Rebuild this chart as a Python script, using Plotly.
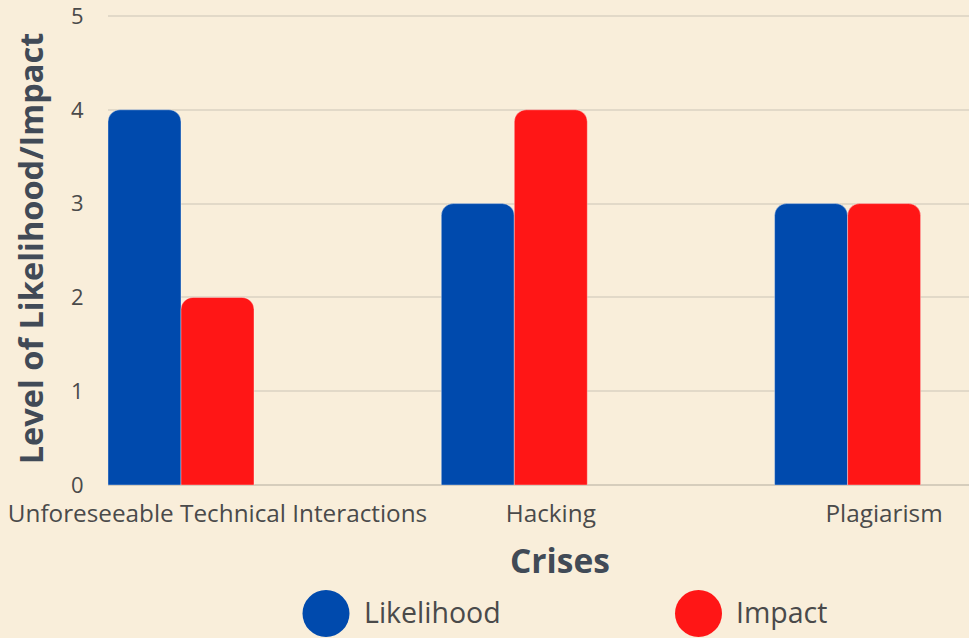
import plotly.graph_objects as go

categories = ["Unforeseeable Technical Interactions", "Hacking", "Plagiarism"]
likelihood = [4, 3, 3]
impact = [2, 4, 3]
series_names = ["Likelihood", "Impact"]
y_ticks = [0, 1, 2, 3, 4, 5]

BG = "#F9EEDA"
BLUE = "#004AAD"
RED = "#FF1616"
TITLE_C = "#414A56"
TICK_C = "#4A4A4A"
FONT = "Open Sans"

W, H = 969, 638
ML, MR, MT, MB = 108, 0, 12, 153
PW, PH = W - ML - MR, H - MT - MB
ZERO_PX = H - MB          # pixel row of y=0
TOP_PX = 16               # pixel row of y=5
y_max = 5 * PH / (ZERO_PX - TOP_PX)

def px_x(px):
    return (px - ML) / PW

def px_y(py):
    return (H - MB - py) / PH

bw = 0.219
fig = go.Figure()
fig.add_trace(go.Bar(x=categories, y=likelihood, name=series_names[0],
                     marker=dict(color=BLUE, line=dict(width=0.6, color="rgba(255,255,255,0.6)")),
                     width=bw, offset=-1.5 * bw, showlegend=False))
fig.add_trace(go.Bar(x=categories, y=impact, name=series_names[1],
                     marker=dict(color=RED, line=dict(width=0.6, color="rgba(255,255,255,0.6)")),
                     width=bw, offset=-0.5 * bw, showlegend=False))

fig.update_layout(
    width=W, height=H,
    margin=dict(l=ML, r=MR, t=MT, b=MB, autoexpand=False),
    paper_bgcolor=BG, plot_bgcolor=BG,
    barmode="overlay",
    barcornerradius=12,
    font=dict(family=FONT, color=TICK_C),
    showlegend=False,
)
fig.update_xaxes(
    type="category",
    range=[-1.5 * bw, (W - ML) / 333.3 - 1.5 * bw],
    showgrid=False, zeroline=False, showline=False,
    ticks="outside", ticklen=7, tickcolor="rgba(0,0,0,0)",
    tickfont=dict(size=24.3, color=TICK_C, family=FONT),
    automargin=False,
)
fig.update_yaxes(
    range=[0, y_max], tickvals=y_ticks,
    showgrid=True, gridcolor="#E2D9C8", gridwidth=1.5,
    zeroline=True, zerolinecolor="#D6CDBC", zerolinewidth=1.5,
    showline=False,
    ticks="outside", ticklen=19, tickcolor="rgba(0,0,0,0)",
    ticklabeloverflow="allow",
    tickfont=dict(size=22, color=TICK_C, family=FONT),
    title=dict(text="<b>Level of Likelihood/Impact</b>", standoff=17,
               font=dict(size=32.5, color=TITLE_C, family=FONT)),
    automargin=False,
)

# x-axis title
fig.add_annotation(text="<b>Crises</b>", x=px_x(560), y=px_y(560), xref="paper", yref="paper",
                   xanchor="center", yanchor="middle", showarrow=False,
                   font=dict(size=33.5, color=TITLE_C, family=FONT))

# custom legend with large circles
legend_items = [(series_names[0], BLUE, 326, 362), (series_names[1], RED, 698.5, 734)]
for name, color, cx, tx in legend_items:
    fig.add_shape(type="circle", xref="paper", yref="paper",
                  xsizemode="pixel", ysizemode="pixel",
                  xanchor=px_x(cx), yanchor=px_y(613.5),
                  x0=-23.5, x1=23.5, y0=-23.5, y1=23.5,
                  fillcolor=color, line=dict(width=0))
    fig.add_annotation(text=name, x=px_x(tx), y=px_y(612), xref="paper", yref="paper",
                       xanchor="left", yanchor="middle", showarrow=False,
                       font=dict(size=28.5, color=TICK_C, family=FONT))

fig.write_html("out.html")
